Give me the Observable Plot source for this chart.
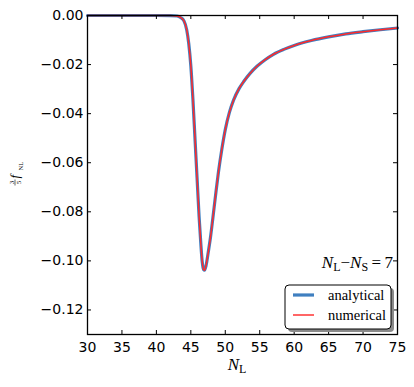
<!DOCTYPE html>
<html><head><meta charset="utf-8">
<script src="https://cdn.jsdelivr.net/npm/d3@7"></script>
<script src="https://cdn.jsdelivr.net/npm/@observablehq/plot@0.6"></script>
<style>body{margin:0;background:#fff} #chart svg{display:block}</style>
</head><body><div id="chart"></div>
<script>
// N_L values (x)
const NL = [30, 35, 40, 42, 43, 43.5, 44, 44.4, 44.7, 45.0, 45.3, 45.6, 45.9, 46.2, 46.45, 46.65, 46.85, 47.0, 47.2, 47.5, 47.85, 48.2, 48.58, 49.0, 49.5, 50.0, 50.6, 51.2, 52.0, 52.7, 53.6, 54.6, 55.8, 57.0, 58.5, 60, 62.5, 65, 67.5, 70, 72.5, 75];
// 3/5 f_NL, analytical result
const analytical = [0, 0, 0, -0.00002, -0.0002, -0.0008, -0.0022, -0.0058, -0.0115, -0.0205, -0.034, -0.050, -0.066, -0.082, -0.093, -0.1003, -0.1035, -0.1038, -0.1020, -0.0970, -0.0905, -0.0825, -0.0735, -0.0640, -0.0545, -0.0465, -0.0395, -0.0345, -0.0298, -0.0268, -0.0236, -0.0207, -0.0180, -0.0158, -0.0138, -0.0122, -0.0102, -0.0087, -0.0075, -0.0066, -0.0058, -0.0051];
// numerical result (overlaps the analytical curve)
const numerical = [0, 0, 0, -0.00002, -0.0002, -0.0008, -0.0022, -0.0058, -0.0115, -0.0205, -0.034, -0.050, -0.066, -0.082, -0.093, -0.1003, -0.1035, -0.1038, -0.1020, -0.0970, -0.0905, -0.0825, -0.0735, -0.0640, -0.0545, -0.0465, -0.0395, -0.0345, -0.0298, -0.0268, -0.0236, -0.0207, -0.0180, -0.0158, -0.0138, -0.0122, -0.0102, -0.0087, -0.0075, -0.0066, -0.0058, -0.0051];
const xTicks = [30, 35, 40, 45, 50, 55, 60, 65, 70, 75];
const yTicks = [0, -0.02, -0.04, -0.06, -0.08, -0.10, -0.12];
const seriesNames = ["analytical", "numerical"];
const xDomain = [30, 75];
const yDomain = [-0.13, 0];

const W = 414, H = 387, mL = 87, mR = 17, mT = 15, mB = 53;
const BLUE = "#3f7fc0", RED = "#ff2a2a";
const rows = NL.map((n, i) => ({n, a: analytical[i], m: numerical[i]}));
const fmt = d => d3.format(".2f")(d);

const plot = Plot.plot({
  width: W, height: H,
  marginLeft: mL, marginRight: mR, marginTop: mT, marginBottom: mB,
  style: {fontFamily: "DejaVu Sans", fontSize: "14px", background: "white", color: "black", overflow: "visible"},
  x: {domain: xDomain},
  y: {domain: yDomain},
  marks: [
    Plot.axisX(xTicks, {tickSize: 0, tickPadding: 8, tickFormat: d => String(d), label: null}),
    Plot.axisY(yTicks, {tickSize: 0, tickPadding: 4, tickFormat: fmt, label: null}),
    Plot.line(rows, {x: "n", y: "a", stroke: BLUE, strokeWidth: 3.2, curve: "monotone-x"}),
    Plot.line(rows, {x: "n", y: "m", stroke: RED, strokeWidth: 1.5, curve: "monotone-x"}),
    Plot.ruleX(xTicks, {x: d => d, y1: yDomain[0], y2: yDomain[0], insetBottom: 4, stroke: "black"}),
    Plot.ruleX(xTicks, {x: d => d, y1: yDomain[1], y2: yDomain[1], insetTop: 4, stroke: "black"}),
    Plot.ruleY(yTicks, {y: d => d, x1: xDomain[0], x2: xDomain[0], insetLeft: 4, stroke: "black"}),
    Plot.ruleY(yTicks, {y: d => d, x1: xDomain[1], x2: xDomain[1], insetRight: 4, stroke: "black"}),
    Plot.frame({stroke: "black", strokeWidth: 1.3})
  ]
});
document.getElementById("chart").append(plot);

const svg = d3.select(plot);
const serif = "'Liberation Serif', 'DejaVu Serif', serif";

// x label N_L
const xl = svg.append("text").attr("x", 237).attr("y", 370).attr("text-anchor", "middle")
  .attr("font-family", serif).attr("font-size", 17).attr("fill", "black");
xl.append("tspan").attr("font-style", "italic").text("N");
xl.append("tspan").attr("font-size", 12).attr("dy", 3).text("L");

// y label 3/5 f_NL
const yl = svg.append("g").attr("transform", "translate(16,174) rotate(-90)")
  .attr("font-family", serif).attr("fill", "black");
yl.append("text").attr("x", -8.5).attr("y", -2).attr("text-anchor", "middle").attr("font-size", 7).text("3");
yl.append("line").attr("x1", -11.5).attr("x2", -5.5).attr("y1", -1).attr("y2", -1).attr("stroke", "black").attr("stroke-width", 0.6);
yl.append("text").attr("x", -8.5).attr("y", 4.8).attr("text-anchor", "middle").attr("font-size", 7).text("5");
yl.append("text").attr("x", -4.5).attr("y", 3).attr("text-anchor", "start").attr("font-size", 13).attr("font-style", "italic").text("f");
yl.append("text").attr("x", 3.5).attr("y", 6.5).attr("text-anchor", "start").attr("font-size", 6.5).text("NL");

// annotation N_L − N_S = 7
const an = svg.append("text").attr("x", 393).attr("y", 268).attr("text-anchor", "end")
  .attr("font-family", serif).attr("font-size", 17).attr("fill", "black");
an.append("tspan").attr("font-style", "italic").text("N");
an.append("tspan").attr("font-size", 12).attr("dy", 3).text("L");
an.append("tspan").attr("dy", -3).text("\u2212");
an.append("tspan").attr("font-style", "italic").text("N");
an.append("tspan").attr("font-size", 12).attr("dy", 3).text("S");
an.append("tspan").attr("dy", -3).text("\u2009=\u20097");

// legend
const lg = svg.append("g");
lg.append("rect").attr("x", 288).attr("y", 288).attr("width", 106).attr("height", 44).attr("rx", 4).attr("fill", "#8a8a8a");
lg.append("rect").attr("x", 285).attr("y", 285).attr("width", 106).attr("height", 44).attr("rx", 4).attr("fill", "white").attr("stroke", "black").attr("stroke-width", 1);
const legendColors = [BLUE, "#ff5555"], legendWidths = [3.2, 1.8];
seriesNames.forEach((name, i) => {
  const cy = 295 + i * 20;
  lg.append("line").attr("x1", 293).attr("x2", 314).attr("y1", cy).attr("y2", cy)
    .attr("stroke", legendColors[i]).attr("stroke-width", legendWidths[i]);
  lg.append("text").attr("x", 328).attr("y", cy + 4.5).attr("text-anchor", "start").attr("font-family", serif).attr("font-size", 14.5)
    .attr("fill", "black").text(name);
});
</script>
</body></html>
